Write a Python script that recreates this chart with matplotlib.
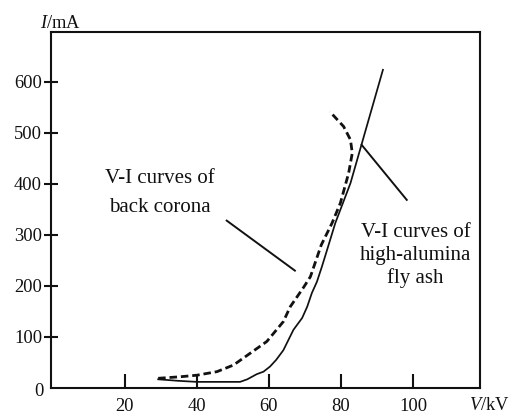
import matplotlib
matplotlib.use("Agg")
import matplotlib.pyplot as plt

# ---- data ----
solid_v = [29.3, 35, 40, 45, 52, 54, 56.6, 58.5, 60.3, 62, 64, 66.8, 69.2, 70.6,
           71.9, 73.3, 74.7, 76.1, 78.4, 82.6, 85.8, 91.6]
solid_i = [17, 14, 12, 12, 12, 17, 27, 32, 42, 55, 74, 114, 137, 159,
           186, 208, 238, 270, 323, 401, 480, 623]

dashed_v = [29.3, 35.4, 40, 45.6, 50.2, 54.8, 59.4, 64, 65.9, 69.6, 71.5, 74.5,
            77.5, 79.8, 82.1, 83.1, 82.6, 80.7, 76.9]
dashed_i = [19, 22, 25, 32, 45, 68, 91, 130, 159, 197, 218, 280,
            323, 362, 421, 460, 486, 512, 541]

x_ticks = [20, 40, 60, 80, 100]
y_ticks = [100, 200, 300, 400, 500, 600]

W, H = 509, 413
plt.rcParams['font.family'] = ['Liberation Serif', 'DejaVu Serif']
plt.rcParams['mathtext.fontset'] = 'custom'
plt.rcParams['mathtext.it'] = 'Liberation Serif:italic'
plt.rcParams['mathtext.rm'] = 'Liberation Serif'

fig = plt.figure(figsize=(W / 100, H / 100), dpi=100)
ax = fig.add_axes([51 / W, (H - 388) / H, (480 - 51) / W, (388 - 32) / H])

ax.plot(solid_v, solid_i, color='#111111', lw=1.25, solid_joinstyle='round')
ax.plot(dashed_v, dashed_i, color='#111111', lw=2.0, linestyle=(0, (2.7, 1.4)))

ax.set_xlim(-0.4, 118.5)
ax.set_ylim(0, 697)
ax.set_xticks(x_ticks)
ax.set_yticks(y_ticks)
ax.set_xticklabels([str(v) for v in x_ticks])
ax.set_yticklabels([str(v) for v in y_ticks])
for s in ax.spines.values():
    s.set_linewidth(1.5)
    s.set_color('#111111')
ax.tick_params(axis='x', direction='in', length=10, width=1.5, pad=7.2,
               labelsize=13.3, colors='#111111')
ax.tick_params(axis='y', direction='inout', length=10, width=1.5, pad=1.5,
               labelsize=13.3, colors='#111111')


def fx(px):
    return px / W


def fy(py):
    return (H - py) / H


fig.text(fx(44), fy(392), '0', ha='right', va='center', fontsize=13.3, color='#111111')
fig.text(fx(40), fy(27.5), r'$I$/mA', ha='left', va='baseline', fontsize=13.3, color='#111111')
fig.text(fx(489), fy(405.5), r'$V$/kV', ha='center', va='center', fontsize=13.3, color='#111111')

# annotations
fig.text(fx(160), fy(183.3), 'V-I curves of', ha='center', va='baseline', fontsize=15, color='#111111')
fig.text(fx(160), fy(211.7), 'back corona', ha='center', va='baseline', fontsize=15, color='#111111')
fig.text(fx(415.5), fy(236.7), 'V-I curves of', ha='center', va='baseline', fontsize=15, color='#111111')
fig.text(fx(415.5), fy(260), 'high-alumina', ha='center', va='baseline', fontsize=15, color='#111111')
fig.text(fx(415.5), fy(283.3), 'fly ash', ha='center', va='baseline', fontsize=15, color='#111111')

ax.plot([48.3, 67.2], [327.7, 229.8], color='#111111', lw=1.4)
ax.plot([85.7, 98.2], [476, 368.3], color='#111111', lw=1.4)

fig.savefig('out.png', dpi=100)
